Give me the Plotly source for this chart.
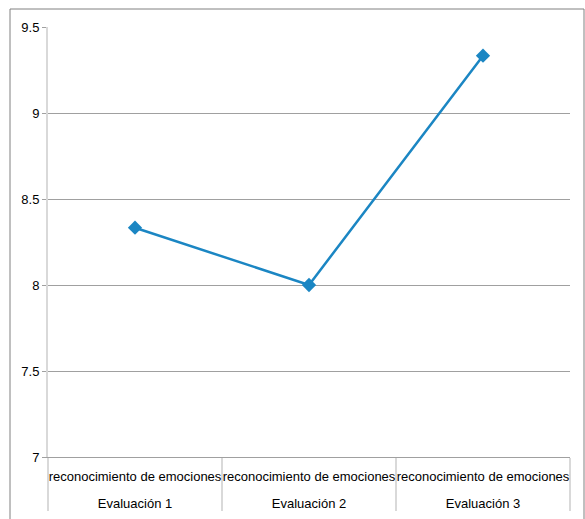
import plotly.graph_objects as go

outer = ["Evaluación 1", "Evaluación 2", "Evaluación 3"]
inner = ["reconocimiento de emociones"] * 3
values = [8.333, 8.0, 9.333]
y_ticks = [7, 7.5, 8, 8.5, 9, 9.5]
y_ticktext = ["7", "7.5", "8", "8.5", "9", "9.5"]

W, H = 585, 519
L, R, T, B = 48, 15, 27, 62
pw, ph = W - L - R, H - T - B

# extra blank line under the inner label pushes the outer level down
inner_labels = [c + "<br>&nbsp;" for c in inner]

fig = go.Figure()
fig.add_trace(go.Scatter(
    x=[outer, inner_labels], y=values, mode="lines+markers",
    line=dict(color="#1b86c3", width=2.5),
    marker=dict(symbol="diamond", size=11, color="#1b86c3"),
    showlegend=False,
))

def px_x(v):
    return (v - L) / pw

def px_y(v):
    return (H - B - v) / ph

fig.add_shape(type="rect", xref="paper", yref="paper",
              x0=px_x(10), x1=px_x(584), y0=px_y(530), y1=px_y(9),
              line=dict(color="#808080", width=1), fillcolor="rgba(0,0,0,0)", layer="below")

fig.update_layout(
    width=W, height=H,
    margin=dict(l=L, r=R, t=T, b=B, autoexpand=False),
    paper_bgcolor="white", plot_bgcolor="white",
    font=dict(family="Liberation Sans, Arial, sans-serif", size=13, color="#000000"),
    xaxis=dict(
        type="multicategory", range=[-0.5, 2.5], automargin=False,
        showgrid=False, showline=True, linecolor="#a0a0a0", linewidth=1,
        showdividers=True, dividercolor="#d9d9d9", dividerwidth=2,
        ticks="", tickangle=0, tickfont=dict(size=13), ticklabelstandoff=7,
    ),
    yaxis=dict(
        range=[7, 9.5], tickvals=y_ticks, ticktext=y_ticktext, automargin=False,
        showgrid=True, gridcolor="#a0a0a0", gridwidth=1,
        showline=True, linecolor="#d9d9d9", linewidth=2,
        ticks="outside", ticklen=4, tickcolor="#a0a0a0",
        zeroline=False, tickfont=dict(size=13),
    ),
)

fig.write_html("out.html")
